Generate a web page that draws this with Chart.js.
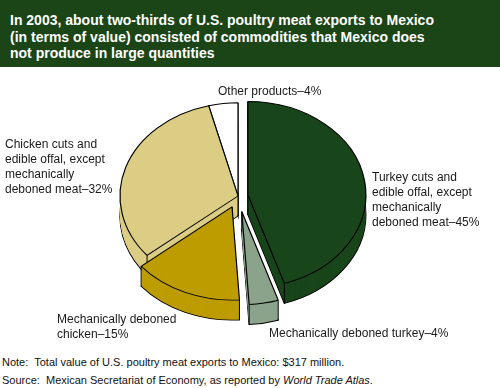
<!DOCTYPE html>
<html>
<head>
<meta charset="utf-8">
<script src="https://cdn.jsdelivr.net/npm/chart.js@4.4.0/dist/chart.umd.min.js"></script>
<style>
  body { margin: 0; width: 500px; height: 388px; position: relative; background: #fff; overflow: hidden;
         font-family: Arial, "Liberation Sans", Helvetica, sans-serif; }
  .title { position: absolute; left: 0; top: 0; width: 490px; height: 55px; padding: 12px 0 0 10px;
           background: #1b4516; color: #fff; font-weight: bold; font-size: 14px; line-height: 16.5px; }
  .chart { position: absolute; left: 0; top: 67px; width: 500px; height: 278px; }
  .notes { position: absolute; left: 2px; top: 353px; font-size: 11px; line-height: 18px; color: #111; }
</style>
</head>
<body>
<div class="title">In 2003, about two-thirds of U.S. poultry meat exports to Mexico<br>(in terms of value) consisted of commodities that Mexico does<br>not produce in large quantities</div>
<div class="chart"><canvas id="pie"></canvas></div>
<div class="notes">Note:&nbsp; Total value of U.S. poultry meat exports to Mexico: $317 million.<br>Source:&nbsp; Mexican Secretariat of Economy, as reported by <i>World Trade Atlas</i>.</div>
<script>
// data, clockwise from 12 o'clock
var categories = [
    'Turkey cuts and edible offal, except mechanically deboned meat',
    'Mechanically deboned turkey',
    'Mechanically deboned chicken',
    'Chicken cuts and edible offal, except mechanically deboned meat',
    'Other products'
];
var shares = [ 45, 4, 15, 32, 4 ];

var labelLines = [
    [ 'Turkey cuts and', 'edible offal, except', 'mechanically', 'deboned meat' ],
    [ 'Mechanically deboned turkey' ],
    [ 'Mechanically deboned', 'chicken' ],
    [ 'Chicken cuts and', 'edible offal, except', 'mechanically', 'deboned meat' ],
    [ 'Other products' ]
];

// styles / layout
var colors = [ '#18461a', '#8ba38b', '#bd9c00', '#dccd84', '#ffffff' ];
var explode = [ 10, 20, 15, 0, 0 ];
var labelPos = [ [ 372, 111 ], [ 269, 267 ], [ 57, 253 ], [ 5, 78 ], [ 218, 25 ] ];
var TILT = 0.79;
var DEPTH = 20;

var place = function ( chart, cx, cy, dy, ex, ey ) {
    var ctx = chart.ctx, r = chart.currentDevicePixelRatio;
    ctx.setTransform( r, 0, 0, r, 0, 0 );
    ctx.translate( cx, cy + dy );
    ctx.scale( 1, TILT );
    ctx.translate( -cx + ex, -cy + ey );
};

var pie3d = {
    id: 'pie3d',
    beforeDatasetsDraw: function ( chart ) {
        var ctx = chart.ctx;
        var r = chart.currentDevicePixelRatio;
        var arcs = chart.getDatasetMeta( 0 ).data;
        var cx = arcs[ 0 ].x, cy = arcs[ 0 ].y;

        var vec = arcs.map( function ( a, i ) {
            var half = ( a.startAngle + a.endAngle ) / 2;
            return [ Math.cos( half ) * explode[ i ], Math.sin( half ) * explode[ i ], Math.sin( half ) ];
        } );
        var order = arcs.map( function ( a, i ) { return i; } )
            .sort( function ( i, j ) { return vec[ i ][ 2 ] - vec[ j ][ 2 ]; } );

        ctx.save();
        // side walls, back to front
        order.forEach( function ( i ) {
            var a = arcs[ i ], ex = vec[ i ][ 0 ], ey = vec[ i ][ 1 ];
            for ( var d = DEPTH; d >= 1; d-- ) {
                place( chart, cx, cy, d, ex, ey );
                ctx.beginPath();
                ctx.moveTo( a.x, a.y );
                ctx.arc( a.x, a.y, a.outerRadius, a.startAngle, a.endAngle );
                ctx.closePath();
                ctx.fillStyle = colors[ i ];
                ctx.fill();
                if ( d === DEPTH ) {
                    ctx.lineWidth = 1.2;
                    ctx.strokeStyle = '#000';
                    ctx.stroke();
                }
            }
            var pts = [
                [ a.x, a.y ],
                [ a.x + Math.cos( a.startAngle ) * a.outerRadius, a.y + Math.sin( a.startAngle ) * a.outerRadius ],
                [ a.x + Math.cos( a.endAngle ) * a.outerRadius, a.y + Math.sin( a.endAngle ) * a.outerRadius ]
            ];
            ctx.setTransform( r, 0, 0, r, 0, 0 );
            ctx.lineWidth = 1;
            ctx.strokeStyle = '#000';
            pts.forEach( function ( p ) {
                var sx = p[ 0 ] + ex;
                var sy = cy + ( p[ 1 ] + ey - cy ) * TILT;
                ctx.beginPath();
                ctx.moveTo( sx, sy );
                ctx.lineTo( sx, sy + DEPTH );
                ctx.stroke();
            } );
        } );
        // top faces
        order.forEach( function ( i ) {
            place( chart, cx, cy, 0, vec[ i ][ 0 ], vec[ i ][ 1 ] );
            arcs[ i ].draw( ctx );
        } );
        ctx.restore();
        return false;
    },
    afterDraw: function ( chart ) {
        var ctx = chart.ctx;
        ctx.save();
        ctx.font = '12px Arial, "Liberation Sans", sans-serif';
        ctx.fillStyle = '#1a1a1a';
        ctx.textAlign = 'left';
        ctx.textBaseline = 'middle';
        labelLines.forEach( function ( lines, i ) {
            lines.forEach( function ( t, k ) {
                if ( k === lines.length - 1 ) {
                    t = t + '\u2013' + shares[ i ] + '%';
                }
                ctx.fillText( t, labelPos[ i ][ 0 ], labelPos[ i ][ 1 ] + k * 15 );
            } );
        } );
        ctx.restore();
    }
};

new Chart( document.getElementById( 'pie' ), {
    type: 'pie',
    data: {
        labels: categories,
        datasets: [ {
            data: shares,
            backgroundColor: colors,
            borderColor: '#000',
            borderWidth: 1.2,
            radius: 118
        } ]
    },
    options: {
        responsive: true,
        maintainAspectRatio: false,
        animation: false,
        events: [],
        layout: { padding: { right: 24, bottom: 20 } },
        plugins: {
            legend: { display: false },
            tooltip: { enabled: false }
        }
    },
    plugins: [ pie3d ]
} );
</script>
</body>
</html>
